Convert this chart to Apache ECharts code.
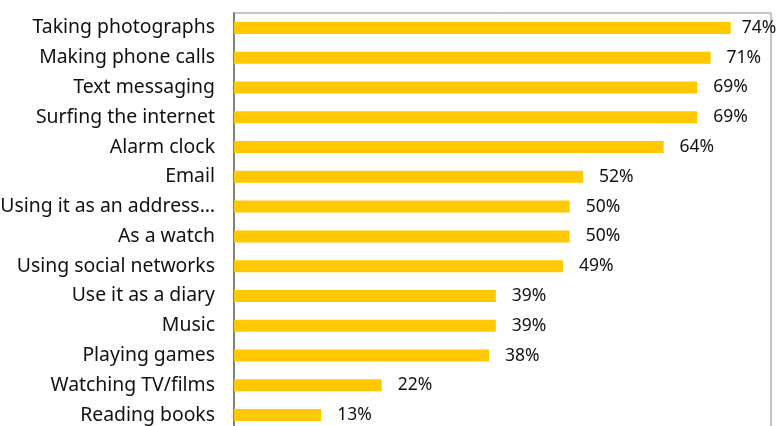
<!DOCTYPE html>
<html lang="en">
<head>
  <meta charset="UTF-8">
  <title>Phone uses</title>
</head>
<body style="margin:0; background-color:#ffffff;">
<div id="main" style="width:776px; height:426px;"></div>

<script src="https://cdn.jsdelivr.net/npm/echarts@6/dist/echarts.min.js"></script>

<script>
var uses = [
  'Taking photographs', 'Making phone calls', 'Text messaging', 'Surfing the internet',
  'Alarm clock', 'Email', 'Using it as an address\u2026', 'As a watch',
  'Using social networks', 'Use it as a diary', 'Music', 'Playing games',
  'Watching TV/films', 'Reading books'
];
var shares = [74, 71, 69, 69, 64, 52, 50, 50, 49, 39, 39, 38, 22, 13];

var chart = echarts.init(document.getElementById('main'));

// the top label is squeezed in so it stays inside the page
var barData = shares.map(function (v, i) {
  return i === 0 ? { value: v, label: { distance: 11 } } : v;
});

var option = {
  backgroundColor: '#ffffff',
  animation: false,
  grid: {
    left: 234,
    right: 5,
    top: 13,
    bottom: -4,
    outerBoundsMode: 'none',
    containLabel: false,
    show: true,
    borderColor: '#8c8c8c',
    borderWidth: 1
  },
  xAxis: {
    type: 'value',
    min: 0,
    max: 80,
    show: false
  },
  yAxis: {
    type: 'category',
    inverse: true,
    data: uses,
    axisLine: { show: true, lineStyle: { color: '#808080', width: 2 } },
    axisTick: { show: false },
    axisLabel: {
      color: '#111',
      fontFamily: 'Noto Sans',
      fontSize: 19.4,
      margin: 19
    }
  },
  series: [{
    type: 'bar',
    data: barData,
    barWidth: 12,
    itemStyle: { color: '#ffc800' },
    label: {
      show: true,
      position: 'right',
      distance: 16,
      formatter: '{c}%',
      color: '#111',
      fontFamily: 'Noto Sans',
      fontSize: 17.5
    }
  }]
};

chart.setOption(option);
</script>
</body>
</html>
